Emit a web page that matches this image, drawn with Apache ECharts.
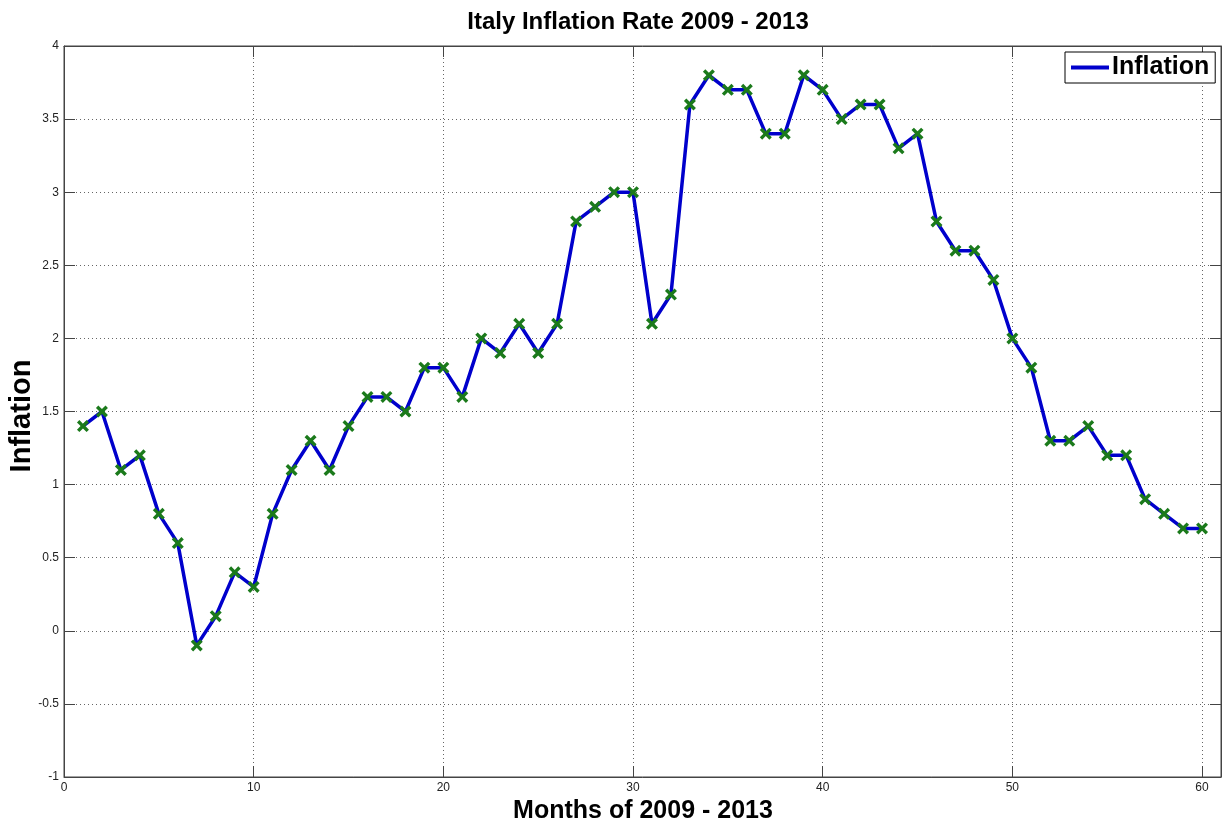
<!DOCTYPE html>
<html><head><meta charset="utf-8">
<script src="https://cdn.jsdelivr.net/npm/echarts@6/dist/echarts.min.js"></script>
<style>html,body{margin:0;padding:0;background:#fff}#c{width:1224px;height:825px}</style>
</head><body><div id="c"></div>
<script>
const months = [];
for (let i = 1; i <= 60; i++) months.push(i);
const inflation = [1.4,1.5,1.1,1.2,0.8,0.6,-0.1,0.1,0.4,0.3,
  0.8,1.1,1.3,1.1,1.4,1.6,1.6,1.5,1.8,1.8,
  1.6,2.0,1.9,2.1,1.9,2.1,2.8,2.9,3.0,3.0,
  2.1,2.3,3.6,3.8,3.7,3.7,3.4,3.4,3.8,3.7,
  3.5,3.6,3.6,3.3,3.4,2.8,2.6,2.6,2.4,2.0,
  1.8,1.3,1.3,1.4,1.2,1.2,0.9,0.8,0.7,0.7];
const titleText = 'Italy Inflation Rate 2009 - 2013';
const xName = 'Months of 2009 - 2013';
const yName = 'Inflation';
const seriesName = 'Inflation';

const xMark = 'path://M2,0 L5,3 L8,0 L10,2 L7,5 L10,8 L8,10 L5,7 L2,10 L0,8 L3,5 L0,2 Z';
const font = 'Liberation Sans, Arial, sans-serif';
const chart = echarts.init(document.getElementById('c'), null, {renderer:'canvas'});
const axisLine = {show:true, onZero:false, lineStyle:{color:'#444', width:1}};
chart.setOption({
  animation:false,
  backgroundColor:'#fff',
  grid:{left:64, right:0, top:46, bottom:48, show:true, borderColor:'#444', borderWidth:1},
  legend:{
    data:[{name:seriesName, icon:'rect', itemStyle:{color:'#0000cc'}}],
    left:1065, top:52, padding:[3,6,3,6],
    itemWidth:38, itemHeight:4, itemGap:0,
    borderColor:'#000', borderWidth:1, backgroundColor:'#fff',
    textStyle:{fontFamily:font, fontWeight:'bold', fontSize:25, color:'#000', padding:[0,0,0,-2]}
  },
  xAxis:[{
    type:'value', min:0, max:61, interval:10,
    axisLine:axisLine,
    axisTick:{show:true, inside:true, length:11, lineStyle:{color:'#444'}},
    axisLabel:{fontFamily:font, fontSize:12, color:'#222', margin:5,
      formatter:v => (v % 10 === 0 ? String(v) : '')},
    splitLine:{show:true, lineStyle:{color:'#666', type:[1,3], width:1}}
  },{
    type:'value', position:'top', min:0, max:61, interval:10,
    axisLine:axisLine,
    axisTick:{show:true, inside:true, length:11, lineStyle:{color:'#444'}},
    axisLabel:{show:false}, splitLine:{show:false}
  }],
  yAxis:[{
    type:'value', min:-1, max:4, interval:0.5,
    axisLine:axisLine,
    axisTick:{show:true, inside:true, length:11, lineStyle:{color:'#444'}},
    axisLabel:{fontFamily:font, fontSize:12, color:'#222', margin:5},
    splitLine:{show:true, lineStyle:{color:'#666', type:[1,3], width:1}}
  },{
    type:'value', position:'right', min:-1, max:4, interval:0.5,
    axisLine:axisLine,
    axisTick:{show:true, inside:true, length:11, lineStyle:{color:'#444'}},
    axisLabel:{show:false}, splitLine:{show:false}
  }],
  series:[{
    name:seriesName, type:'line',
    data: months.map((m,i)=>[m, inflation[i]]),
    lineStyle:{color:'#0000cc', width:3.5},
    itemStyle:{color:'#1b7a1b'},
    symbol:xMark, symbolSize:12, showSymbol:true,
    color:'#0000cc'
  }],
  graphic:[
    {type:'text', x:638, y:22, style:{text:titleText, font:'bold 24px '+font, fill:'#000', textAlign:'center', textVerticalAlign:'middle'}},
    {type:'text', x:643, y:811, style:{text:xName, font:'bold 25px '+font, fill:'#000', textAlign:'center', textVerticalAlign:'middle'}},
    {type:'text', x:22, y:416, rotation:Math.PI/2, style:{text:yName, font:'bold 29px '+font, fill:'#000', textAlign:'center', textVerticalAlign:'middle'}}
  ]
});
</script></body></html>
